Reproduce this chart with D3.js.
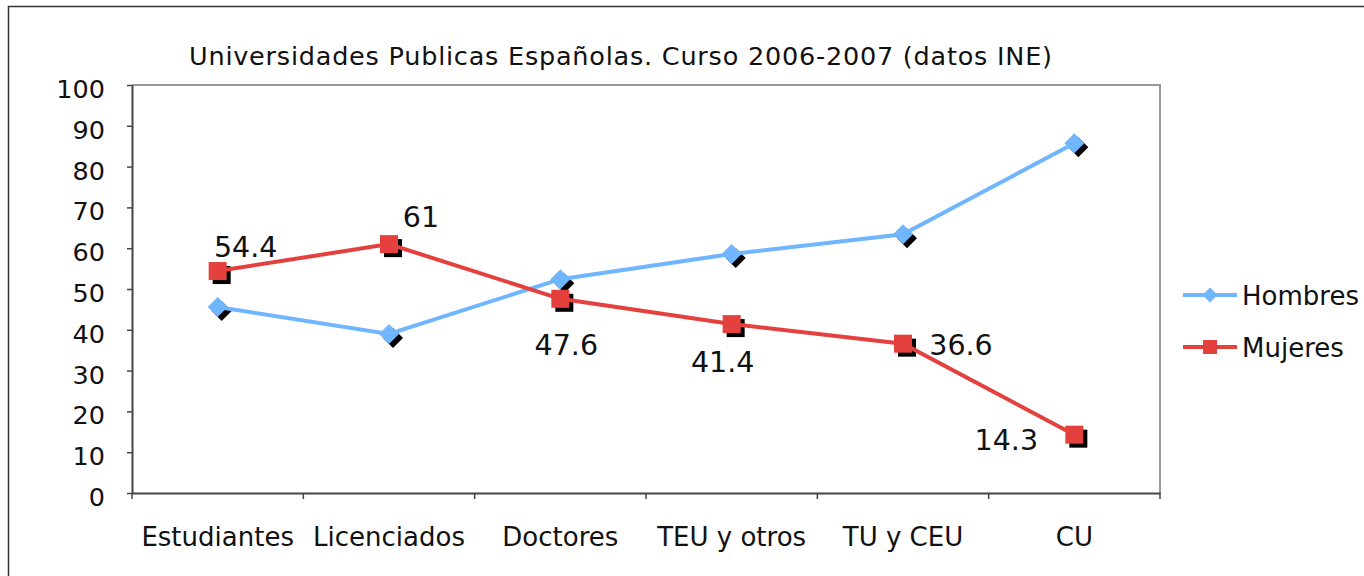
<!DOCTYPE html>
<html><head><meta charset="utf-8">
<script src="https://cdn.jsdelivr.net/npm/d3@7"></script>
<style>
html,body{margin:0;padding:0;background:#fff;}
svg{display:block;font-family:"DejaVu Sans",Verdana,sans-serif;}
</style></head>
<body>
<svg id="c" width="1364" height="576"></svg>
<script>
const title = "Universidades Publicas Españolas. Curso 2006-2007 (datos INE)";
const categories = ["Estudiantes","Licenciados","Doctores","TEU y otros","TU y CEU","CU"];
const hombres = [45.6, 39, 52.4, 58.6, 63.4, 85.7];
const mujeres = [54.4, 61, 47.6, 41.4, 36.6, 14.3];
const mujeresLabels = ["54.4","61","47.6","41.4","36.6","14.3"];
const yTicks = [0,10,20,30,40,50,60,70,80,90,100];
const seriesNames = ["Hombres","Mujeres"];
// label offsets relative to each point (dx for text center, dy for baseline)
const labelOffsets = [[28,-14],[32,-17],[6,56],[-9,48],[58,11],[-68,15]];

const svg = d3.select("#c");
const plot = {left:132, top:85, right:1160, bottom:493};
const x = d3.scaleBand().domain(categories).range([plot.left, plot.right]).padding(0);
const y = d3.scaleLinear().domain([0,100]).range([plot.bottom, plot.top]);
const cx = c => x(c) + x.bandwidth()/2;

// outer frame
svg.append("rect").attr("x",8.5).attr("y",6.5).attr("width",1400).attr("height",600)
  .attr("fill","none").attr("stroke","#333").attr("stroke-width",1.5);

// title
svg.append("text").attr("x",620.5).attr("y",65).attr("text-anchor","middle")
  .attr("font-size",25.5).attr("fill","#111")
  .attr("textLength",863).attr("lengthAdjust","spacing").text(title);

// plot frame (gray top & right)
svg.append("path").attr("d",`M${plot.left},${plot.top}H${plot.right}V${plot.bottom}`)
  .attr("fill","none").attr("stroke","#999").attr("stroke-width",2);

// y axis
const yAxis = svg.append("g").attr("transform",`translate(${plot.left},0)`)
  .call(d3.axisLeft(y).tickValues(yTicks).tickSize(5).tickPadding(22).tickSizeOuter(0));
yAxis.select(".domain").attr("stroke","#444").attr("stroke-width",2);
yAxis.selectAll(".tick line").attr("stroke","#444").attr("stroke-width",1.5);
yAxis.selectAll(".tick text").attr("font-size",25.5).attr("fill","#111")
  .attr("font-family","DejaVu Sans, Verdana, sans-serif").attr("dy",null).attr("y",12.5);

// x axis
const xAxis = svg.append("g").attr("transform",`translate(0,${plot.bottom})`)
  .call(d3.axisBottom(x).tickSize(0).tickSizeOuter(0).tickPadding(0));
xAxis.select(".domain").attr("stroke","#444").attr("stroke-width",2);
xAxis.selectAll(".tick text").attr("font-size",26).attr("fill","#111")
  .attr("font-family","DejaVu Sans, Verdana, sans-serif").attr("dy",null).attr("y",53);
const bounds = categories.map(c => x(c)).concat([plot.right]);
xAxis.selectAll(".bt").data(bounds).join("line").attr("class","bt")
  .attr("x1",d=>d).attr("x2",d=>d).attr("y1",0).attr("y2",6)
  .attr("stroke","#444").attr("stroke-width",1.5);

const blue = "#6fb6ff", red = "#e4403e";
const sq = 18, dh = 10, sh = 4;
const diamondPath = (px,py,h) => `M${px},${py-h}L${px+h},${py}L${px},${py+h}L${px-h},${py}Z`;

// shadows
const gS = svg.append("g");
categories.forEach((c,i)=>{
  gS.append("path").attr("d",diamondPath(cx(c)+sh, y(hombres[i])+sh, dh)).attr("fill","#000");
  gS.append("rect").attr("x",cx(c)-sq/2+sh).attr("y",y(mujeres[i])-sq/2+sh)
    .attr("width",sq).attr("height",sq).attr("fill","#000");
});

const line = d3.line().x((d,i)=>cx(categories[i])).y(d=>y(d));
svg.append("path").datum(hombres).attr("d",line).attr("fill","none").attr("stroke",blue).attr("stroke-width",4);
svg.append("g").selectAll("path").data(hombres).join("path")
  .attr("d",(d,i)=>diamondPath(cx(categories[i]), y(d), dh)).attr("fill",blue);

svg.append("path").datum(mujeres).attr("d",line).attr("fill","none").attr("stroke",red).attr("stroke-width",4);
svg.append("g").selectAll("rect").data(mujeres).join("rect")
  .attr("x",(d,i)=>cx(categories[i])-sq/2).attr("y",d=>y(d)-sq/2)
  .attr("width",sq).attr("height",sq).attr("fill",red);

// data labels
svg.append("g").selectAll("text").data(mujeres).join("text")
  .attr("x",(d,i)=>cx(categories[i])+labelOffsets[i][0])
  .attr("y",(d,i)=>y(d)+labelOffsets[i][1])
  .attr("text-anchor","middle").attr("font-size",28.5).attr("fill","#111")
  .text((d,i)=>mujeresLabels[i]);

// legend
const lg = svg.append("g");
const legY = [295, 347];
seriesNames.forEach((n,i)=>{
  const col = i===0?blue:red;
  lg.append("line").attr("x1",1183).attr("x2",1237).attr("y1",legY[i]).attr("y2",legY[i])
    .attr("stroke",col).attr("stroke-width",4);
  if(i===0) lg.append("path").attr("d",diamondPath(1210,legY[i],7.5)).attr("fill",col);
  else lg.append("rect").attr("x",1203).attr("y",legY[i]-7).attr("width",14).attr("height",14).attr("fill",col);
  lg.append("text").attr("x",1242).attr("y",legY[i]+9.5).attr("font-size",26).attr("fill","#111").text(n);
});
</script>
</body></html>
